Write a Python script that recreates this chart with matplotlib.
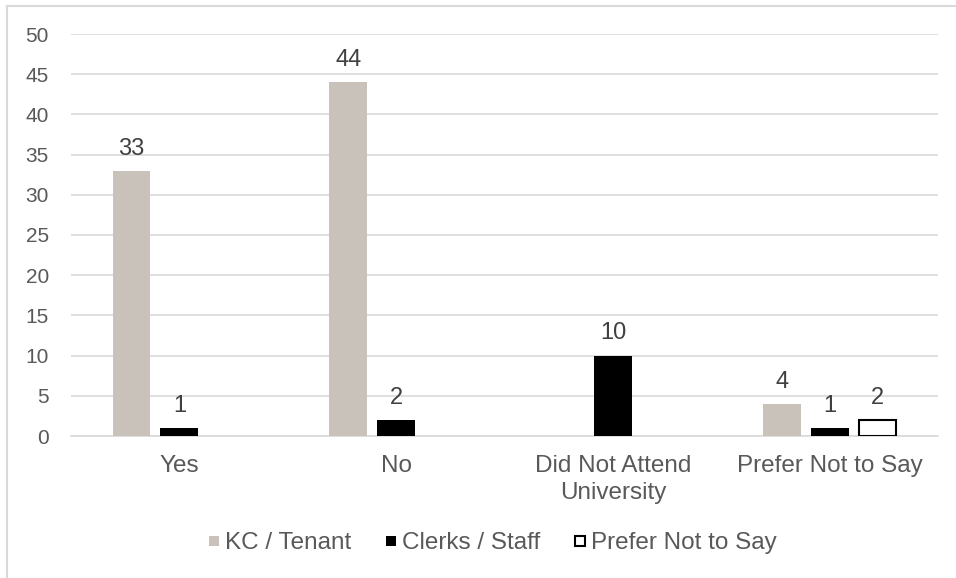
import numpy as np
import matplotlib.pyplot as plt
from matplotlib.lines import Line2D

categories = ['Yes', 'No', 'Did Not Attend\nUniversity', 'Prefer Not to Say']
series_names = ['KC / Tenant', 'Clerks / Staff', 'Prefer Not to Say']
kc_tenant = [33, 44, np.nan, 4]
clerks_staff = [1, 2, 10, 1]
prefer_not = [np.nan, np.nan, np.nan, 2]


def main():
    plt.rcParams['font.family'] = ['Liberation Sans', 'DejaVu Sans']

    fig = plt.figure(figsize=(9.56, 5.78), dpi=100)
    ax = fig.add_axes([71 / 956, 1 - 436 / 578, 867 / 956, 402 / 578])

    x = np.arange(len(categories))
    width = 0.175
    step = 0.221
    styles = [dict(color='#C9C2BA', edgecolor='#C9C2BA', linewidth=0),
              dict(color='black', edgecolor='black', linewidth=0),
              dict(color='white', edgecolor='black', linewidth=1.5)]
    all_series = [kc_tenant, clerks_staff, prefer_not]

    for i, (vals, st) in enumerate(zip(all_series, styles)):
        vals = np.array(vals, dtype=float)
        pos = x + (i - 1) * step
        ok = ~np.isnan(vals)
        bars = ax.bar(pos[ok], vals[ok], width, zorder=3, **st)
        ax.bar_label(bars, padding=8, fontsize=17, color='#404040')

    ax.set_xlim(-0.5, len(categories) - 0.5)
    ax.set_ylim(0, 50)
    ax.set_yticks(np.arange(0, 51, 5))
    ax.set_xticks(x)
    ax.set_xticklabels(categories, fontsize=17.5, color='#595959', linespacing=1.25)
    ax.tick_params(axis='y', labelsize=15, labelcolor='#595959', length=0, pad=16)
    ax.tick_params(axis='x', length=0, pad=14)
    ax.grid(axis='y', color='#D9D9D9', linewidth=1.2, zorder=0)
    for s in ['top', 'right', 'left']:
        ax.spines[s].set_visible(False)
    ax.spines['bottom'].set_color('#D9D9D9')
    ax.spines['bottom'].set_linewidth(1.2)

    handles = [Line2D([], [], marker='s', linestyle='none', markersize=7.5,
                      markerfacecolor=st['color'], markeredgecolor=st['edgecolor'],
                      markeredgewidth=st['linewidth'])
               for st in styles]
    fig.legend(handles, series_names, loc='center', bbox_to_anchor=(490 / 956, 1 - 543 / 578),
               ncol=3, frameon=False, fontsize=17.5, labelcolor='#595959',
               handletextpad=0.0, columnspacing=1.2, handlelength=0.9)

    # light border along left and top edges
    fig.add_artist(Line2D([6.5 / 956, 6.5 / 956], [0, 1 - 5.5 / 578], color='#D9D9D9', linewidth=1.5))
    fig.add_artist(Line2D([6.5 / 956, 1], [1 - 5.5 / 578, 1 - 5.5 / 578], color='#D9D9D9', linewidth=1.5))

    fig.savefig('out.png', dpi=100)


if __name__ == "__main__":
    main()
